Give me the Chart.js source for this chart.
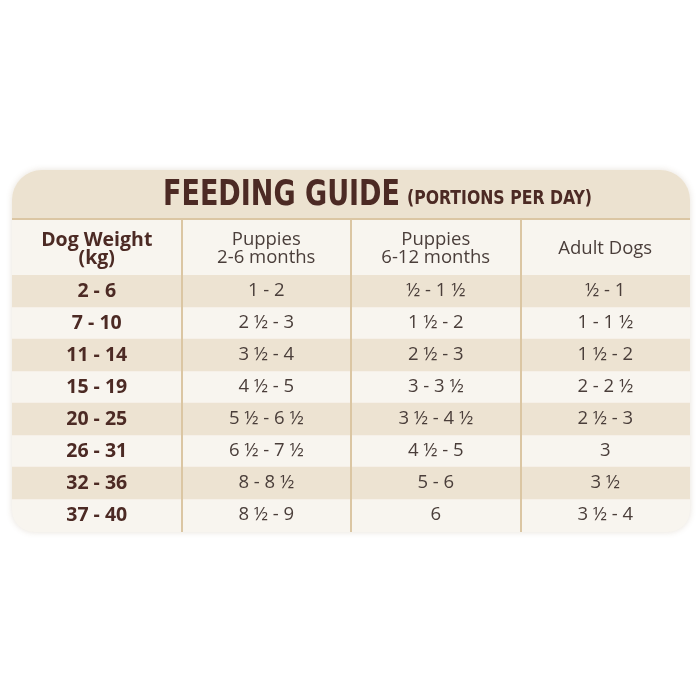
<!DOCTYPE html>
<html>
<head>
<meta charset="utf-8">
<script src="https://cdn.jsdelivr.net/npm/chart.js@4/dist/chart.umd.min.js"></script>
<style>
  html, body { margin: 0; background: #fff; }
  #wrap { width: 700px; height: 700px; position: relative; }
</style>
</head>
<body>
<div id="wrap"><canvas id="guide"></canvas></div>
<script>
// ── Data ─────────────────────────────────────────────────────────────────────

const TITLE     = 'FEEDING GUIDE';
const SUBTITLE  = '(PORTIONS PER DAY)';
const HEADERS   = [['Dog Weight', '(kg)'], ['Puppies', '2-6 months'], ['Puppies', '6-12 months'], ['Adult Dogs']];

const weights   = ['2 - 6', '7 - 10', '11 - 14', '15 - 19', '20 - 25', '26 - 31', '32 - 36', '37 - 40'];
const pup2to6   = ['1 - 2', '2 ½ - 3', '3 ½ - 4', '4 ½ - 5', '5 ½ - 6 ½', '6 ½ - 7 ½', '8 - 8 ½', '8 ½ - 9'];
const pup6to12  = ['½ - 1 ½', '1 ½ - 2', '2 ½ - 3', '3 - 3 ½', '3 ½ - 4 ½', '4 ½ - 5', '5 - 6', '6'];
const adultDogs = ['½ - 1', '1 - 1 ½', '1 ½ - 2', '2 - 2 ½', '2 ½ - 3', '3', '3 ½', '3 ½ - 4'];

const columns = [weights, pup2to6, pup6to12, adultDogs];

// ── Style ────────────────────────────────────────────────────────────────────

const C = {
  card:   '#f8f5ef',
  band:   '#ede3d2',
  title:  '#ece2d0',
  line:   '#dbc6a3',
  brown:  '#4c2a24',
  text:   '#4a3e3a'
};

const CARD = { left: 12, right: 690, top: 170, bottom: 532 };
const TITLE_H  = 48;
const HEADER_H = 56;

const BOLD_FONT = 'bold 19.5px "Open Sans", sans-serif';
const BODY_FONT = '18.5px "Open Sans", sans-serif';

function fitText(ctx, str, x, y, width) {
  const w = ctx.measureText(str).width;
  ctx.save();
  ctx.translate(x, y);
  ctx.scale(width / w, 1);
  ctx.fillText(str, 0, 0);
  ctx.restore();
}

// ── Plugin: card, title, header, dividers, cell text ────────────────────────

const tablePlugin = {
  id: 'tablePlugin',
  beforeDatasetsDraw(chart) {
    const ctx = chart.ctx;
    const w = CARD.right - CARD.left, h = CARD.bottom - CARD.top;
    ctx.save();
    ctx.shadowColor = 'rgba(120, 90, 50, 0.18)';
    ctx.shadowBlur = 6;
    ctx.fillStyle = C.card;
    ctx.beginPath();
    ctx.roundRect(CARD.left, CARD.top, w, h, [30, 30, 22, 22]);
    ctx.fill();
    ctx.restore();

    ctx.save();
    ctx.fillStyle = C.title;
    ctx.beginPath();
    ctx.roundRect(CARD.left, CARD.top, w, TITLE_H, [30, 30, 0, 0]);
    ctx.fill();
    ctx.strokeStyle = C.line;
    ctx.lineWidth = 2;
    ctx.beginPath();
    ctx.moveTo(CARD.left, CARD.top + TITLE_H + 1);
    ctx.lineTo(CARD.right, CARD.top + TITLE_H + 1);
    ctx.stroke();

    ctx.fillStyle = C.brown;
    ctx.textAlign = 'left';
    ctx.textBaseline = 'alphabetic';
    ctx.font = 'bold 35px "Liberation Sans Narrow", "DejaVu Sans Condensed", sans-serif';
    fitText(ctx, TITLE, 163, 205, 237);
    ctx.font = 'bold 19px "Liberation Sans Narrow", "DejaVu Sans Condensed", sans-serif';
    fitText(ctx, SUBTITLE, 407, 204, 185);
    ctx.restore();
  },
  afterDatasetsDraw(chart) {
    const ctx = chart.ctx;
    const x = chart.scales.x;
    const area = chart.chartArea;

    // column dividers
    ctx.save();
    ctx.strokeStyle = C.line;
    ctx.lineWidth = 2;
    for (let k = 1; k < columns.length; k++) {
      const px = Math.round(x.getPixelForValue(k));
      ctx.beginPath();
      ctx.moveTo(px, CARD.top + TITLE_H + 2);
      ctx.lineTo(px, CARD.bottom);
      ctx.stroke();
    }

    // header row
    ctx.textAlign = 'center';
    ctx.textBaseline = 'middle';
    const hMid = area.top - HEADER_H / 2 + 2;
    HEADERS.forEach((lines, ci) => {
      const cx = x.getPixelForValue(ci + 0.5);
      ctx.fillStyle = ci === 0 ? C.brown : C.text;
      ctx.font = ci === 0 ? BOLD_FONT : BODY_FONT;
      lines.forEach((t, li) => {
        const off = (li - (lines.length - 1) / 2) * 18;
        ctx.fillText(t, cx, hMid + off);
      });
    });

    // cells
    chart.data.datasets.forEach((ds, di) => {
      const meta = chart.getDatasetMeta(di);
      ctx.fillStyle = di === 0 ? C.brown : C.text;
      ctx.font = di === 0 ? BOLD_FONT : BODY_FONT;
      meta.data.forEach((bar, i) => {
        const cx = (bar.x + bar.base) / 2;
        ctx.fillText(columns[di][i], cx, bar.y);
      });
    });
    ctx.restore();
  }
};

// ── Chart ────────────────────────────────────────────────────────────────────

const rowColors = weights.map((_, i) => i % 2 === 0 ? C.band : 'rgba(0,0,0,0)');

new Chart(document.getElementById('guide').getContext('2d'), {
  type: 'bar',
  data: {
    labels: weights,
    datasets: columns.map((col, ci) => ({
      label: HEADERS[ci].join(' '),
      data: col.map(() => 1),
      backgroundColor: rowColors,
      borderWidth: 0,
      barPercentage: 1,
      categoryPercentage: 1
    }))
  },
  options: {
    indexAxis: 'y',
    responsive: true,
    maintainAspectRatio: false,
    animation: false,
    layout: { padding: { top: CARD.top + TITLE_H + HEADER_H + 1, bottom: 700 - CARD.bottom + 1, left: CARD.left, right: 700 - CARD.right } },
    plugins: { legend: { display: false }, tooltip: { enabled: false } },
    scales: {
      x: { type: 'linear', min: 0, max: columns.length, stacked: true, display: false },
      y: { type: 'category', stacked: true, display: false }
    }
  },
  plugins: [tablePlugin]
});
</script>
</body>
</html>
